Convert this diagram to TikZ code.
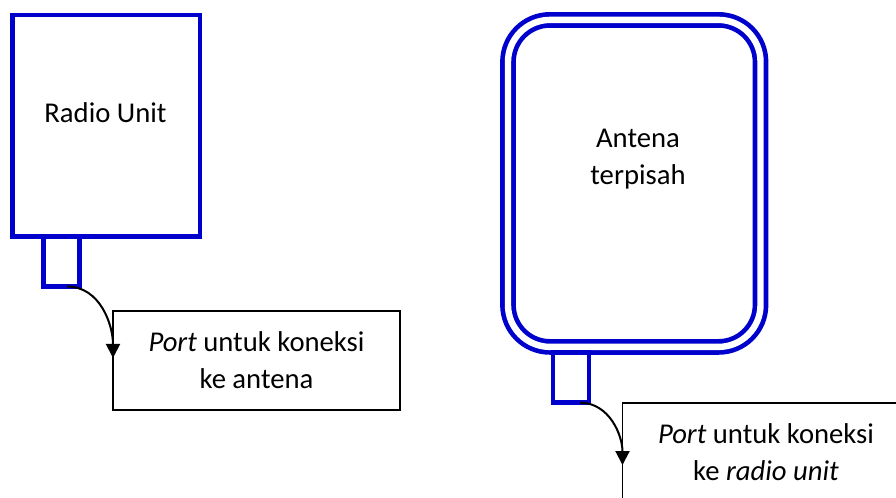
\documentclass[tikz,border=0pt]{standalone}
\usepackage{fontspec}
\setmainfont{Carlito}
\usetikzlibrary{arrows.meta}
\definecolor{unitblue}{RGB}{0,0,204}
\tikzstyle{unitbox} = [rectangle, draw=unitblue, line width=3.5pt, fill=white, inner sep=0pt, outer sep=0pt]
\tikzstyle{portbox} = [rectangle, draw=unitblue, line width=3.5pt, minimum width=27pt, minimum height=37.5pt, inner sep=0pt, outer sep=0pt]
\tikzstyle{antennabox} = [rectangle, rounded corners=31.5pt, draw=unitblue, line width=3.5pt, double=white, double distance=4.8pt, minimum width=189.4pt, minimum height=245.25pt, inner sep=0pt, outer sep=0pt]
\tikzstyle{note} = [rectangle, draw=black, line width=0.8pt, fill=white, minimum width=215.25pt, minimum height=74.25pt, align=center, outer sep=0pt]
\tikzstyle{arrow} = [line width=1.5pt, -{Triangle[length=10.5pt,width=10.5pt]}]

\begin{document}
\begin{tikzpicture}[x=0.75pt, y=-0.75pt, font=\fontsize{21.5}{27.75}\selectfont]
    \useasboundingbox (0,0) rectangle (896,498);

    %nodes
    \node (radio) [unitbox, minimum width=140.6pt, minimum height=166.1pt] at (106.25,125.75) {};
    \node (radiolabel) [anchor=base] at (105.5,122.7) {Radio Unit};
    \node (radioport) [portbox] at (61.25,261.5) {};
    \node (radionote) [note] at (256.5,360.5) {\textit{Port} untuk koneksi\\ke antena};

    \node (antena) [antennabox] at (634.25,183.4) {};
    \node (antenalabel) [align=center] at (638,158.7) {Antena\\terpisah};
    \node (antenaport) [portbox] at (571,377.7) {};
    \node (antenanote) [note] at (766,452.5) {\textit{Port} untuk koneksi\\ke \textit{radio unit}};

    %arrows
    \draw [arrow] ([xshift=4.3pt]radioport.south) to[out=0, in=90] ([yshift=1.9pt]radionote.west);
    \draw [arrow] ([xshift=6.75pt]antenaport.south) to[out=0, in=90] ([yshift=-9.4pt]antenanote.west);

\end{tikzpicture}
\end{document}
